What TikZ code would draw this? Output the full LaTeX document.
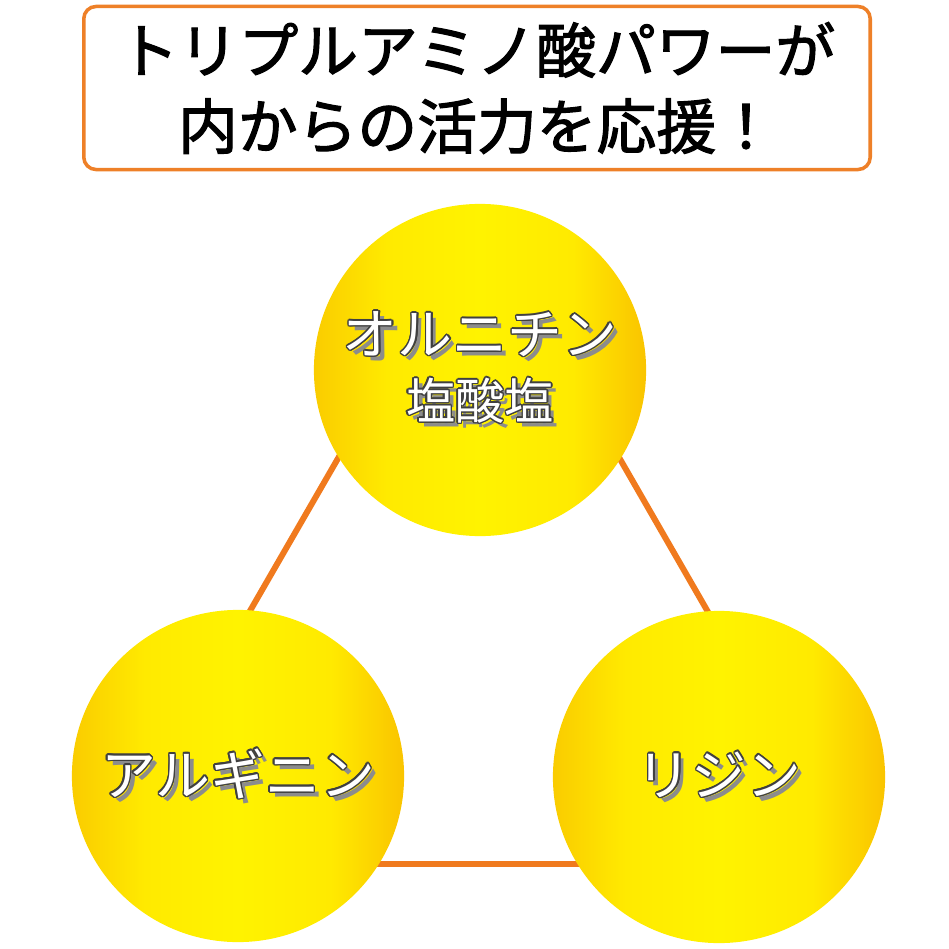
\documentclass[tikz,border=0pt]{standalone}
\usepackage{fontspec}
\usepackage[copies]{contour}
\newfontfamily\jp{Noto Sans CJK JP}
\newfontfamily\jphead[FakeBold=2]{Noto Sans CJK JP}
\definecolor{linecol}{RGB}{240,122,30}
\definecolor{boxcol}{RGB}{238,128,40}
\definecolor{goldleft}{RGB}{250,204,0}
\definecolor{goldright}{RGB}{250,196,0}
\definecolor{goldmid}{RGB}{255,243,0}
\definecolor{goldnear}{RGB}{255,234,0}
\pgfdeclarehorizontalshading{ball}{100bp}{color(0bp)=(goldleft); color(25bp)=(goldleft); color(36bp)=(goldnear); color(50bp)=(goldmid); color(64bp)=(goldnear); color(75bp)=(goldright); color(100bp)=(goldright)}
\contourlength{0.4pt}
\newcommand{\glow}[1]{\makebox[0pt][l]{\hspace{1.5pt}\raisebox{-1.5pt}{\color{black!45}#1}}{\color{white}\contour{black!75}{#1}}}

\begin{document}
\begin{tikzpicture}[x=0.01cm, y=-0.01cm,
    main/.style = {circle, minimum size=3.32cm, inner sep=0pt, shading=ball, align=center, font=\jp\fontsize{15.6}{18.5}\selectfont},
    title/.style = {draw=boxcol, line width=1pt, rounded corners=3.5pt, fill=white, minimum width=7.86cm, minimum height=1.63cm, align=center, font=\jphead\fontsize{17}{21.6}\selectfont}]
    \useasboundingbox (0,0) rectangle (949,949);
    \node[title] (t) at (477,88) {トリプルアミノ酸パワーが\\内からの活力を応援！};
    \coordinate (a) at (479,214);
    \coordinate (b) at (104,864);
    \coordinate (c) at (853,864);
    \draw[linecol, line width=1.7pt, line join=round] (a) -- (b) -- (c) -- cycle;
    \node[main] (1) at (480,370) {\glow{オルニチン}\\{\fontsize{14}{16}\selectfont\glow{塩酸塩}}};
    \node[main] (2) at (238,776) {\glow{アルギニン}};
    \node[main] (3) at (719,777) {\glow{リジン}};
\end{tikzpicture}
\end{document}
